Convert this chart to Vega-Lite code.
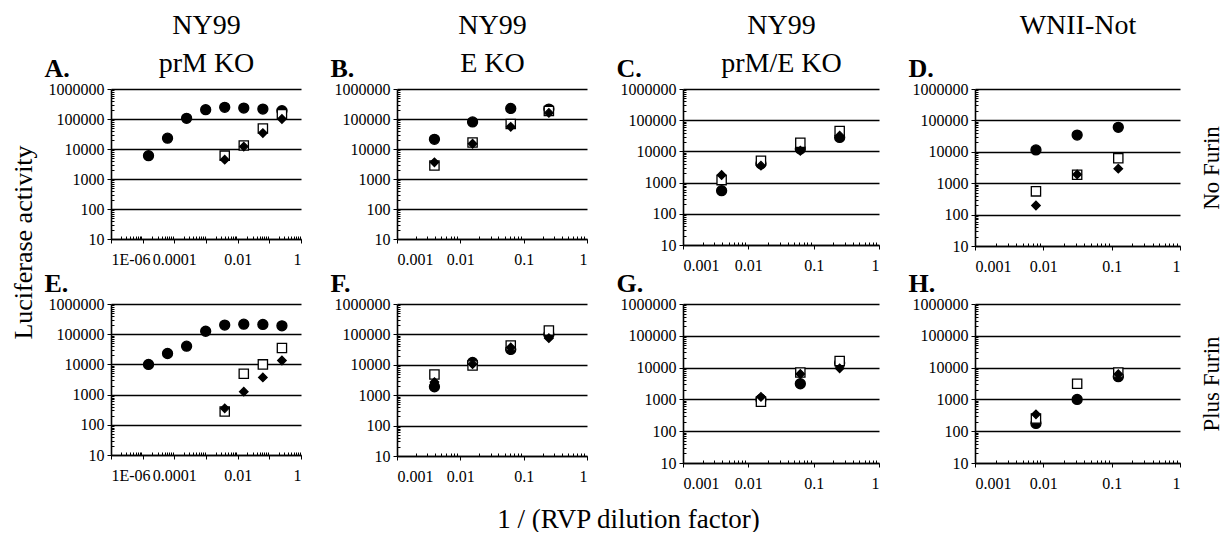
{
  "$schema": "https://vega.github.io/schema/vega-lite/v6.json",
  "padding": {"left": 10, "top": 11, "right": 4, "bottom": 0},
  "background": "white",
  "config": {
    "view": {"stroke": null},
    "font": "Liberation Serif",
    "title": {"font": "Liberation Serif", "fontWeight": "normal", "color": "black"},
    "axis": {
      "labelFont": "Liberation Serif", "labelFontSize": 16, "labelColor": "black",
      "domainColor": "black", "domainWidth": 1.6, "tickColor": "black", "tickWidth": 1,
      "titleFont": "Liberation Serif", "titleColor": "black", "titleFontWeight": "normal"
    }
  },
  "data": {"values": [
    {"panel": "A", "series": "Series 1", "dilution": 0.0000153, "activity": 6000},
    {"panel": "A", "series": "Series 1", "dilution": 0.000061, "activity": 23000},
    {"panel": "A", "series": "Series 1", "dilution": 0.000244, "activity": 105000},
    {"panel": "A", "series": "Series 1", "dilution": 0.000977, "activity": 205000},
    {"panel": "A", "series": "Series 1", "dilution": 0.0039, "activity": 245000},
    {"panel": "A", "series": "Series 1", "dilution": 0.0156, "activity": 232000},
    {"panel": "A", "series": "Series 1", "dilution": 0.0625, "activity": 215000},
    {"panel": "A", "series": "Series 1", "dilution": 0.25, "activity": 190000},
    {"panel": "A", "series": "Series 2", "dilution": 0.0039, "activity": 6000},
    {"panel": "A", "series": "Series 2", "dilution": 0.0156, "activity": 13000},
    {"panel": "A", "series": "Series 2", "dilution": 0.0625, "activity": 48000},
    {"panel": "A", "series": "Series 2", "dilution": 0.25, "activity": 145000},
    {"panel": "A", "series": "Series 3", "dilution": 0.0039, "activity": 4400},
    {"panel": "A", "series": "Series 3", "dilution": 0.0156, "activity": 12000},
    {"panel": "A", "series": "Series 3", "dilution": 0.0625, "activity": 34000},
    {"panel": "A", "series": "Series 3", "dilution": 0.25, "activity": 100000},
    {"panel": "E", "series": "Series 1", "dilution": 0.0000153, "activity": 10000},
    {"panel": "E", "series": "Series 1", "dilution": 0.000061, "activity": 23000},
    {"panel": "E", "series": "Series 1", "dilution": 0.000244, "activity": 40000},
    {"panel": "E", "series": "Series 1", "dilution": 0.000977, "activity": 125000},
    {"panel": "E", "series": "Series 1", "dilution": 0.0039, "activity": 200000},
    {"panel": "E", "series": "Series 1", "dilution": 0.0156, "activity": 215000},
    {"panel": "E", "series": "Series 1", "dilution": 0.0625, "activity": 210000},
    {"panel": "E", "series": "Series 1", "dilution": 0.25, "activity": 190000},
    {"panel": "E", "series": "Series 2", "dilution": 0.0039, "activity": 275},
    {"panel": "E", "series": "Series 2", "dilution": 0.0156, "activity": 4900},
    {"panel": "E", "series": "Series 2", "dilution": 0.0625, "activity": 10000},
    {"panel": "E", "series": "Series 2", "dilution": 0.25, "activity": 35000},
    {"panel": "E", "series": "Series 3", "dilution": 0.0039, "activity": 350},
    {"panel": "E", "series": "Series 3", "dilution": 0.0156, "activity": 1250},
    {"panel": "E", "series": "Series 3", "dilution": 0.0625, "activity": 3700},
    {"panel": "E", "series": "Series 3", "dilution": 0.25, "activity": 13500},
    {"panel": "B", "series": "Series 1", "dilution": 0.0039, "activity": 21000},
    {"panel": "B", "series": "Series 1", "dilution": 0.0156, "activity": 80000},
    {"panel": "B", "series": "Series 1", "dilution": 0.0625, "activity": 225000},
    {"panel": "B", "series": "Series 1", "dilution": 0.25, "activity": 215000},
    {"panel": "B", "series": "Series 2", "dilution": 0.0039, "activity": 2800},
    {"panel": "B", "series": "Series 2", "dilution": 0.0156, "activity": 16500},
    {"panel": "B", "series": "Series 2", "dilution": 0.0625, "activity": 68000},
    {"panel": "B", "series": "Series 2", "dilution": 0.25, "activity": 185000},
    {"panel": "B", "series": "Series 3", "dilution": 0.0039, "activity": 3600},
    {"panel": "B", "series": "Series 3", "dilution": 0.0156, "activity": 15000},
    {"panel": "B", "series": "Series 3", "dilution": 0.0625, "activity": 55000},
    {"panel": "B", "series": "Series 3", "dilution": 0.25, "activity": 160000},
    {"panel": "F", "series": "Series 1", "dilution": 0.0039, "activity": 1900},
    {"panel": "F", "series": "Series 1", "dilution": 0.0156, "activity": 12000},
    {"panel": "F", "series": "Series 1", "dilution": 0.0625, "activity": 32000},
    {"panel": "F", "series": "Series 1", "dilution": 0.25, "activity": 100000},
    {"panel": "F", "series": "Series 2", "dilution": 0.0039, "activity": 4800},
    {"panel": "F", "series": "Series 2", "dilution": 0.0156, "activity": 9500},
    {"panel": "F", "series": "Series 2", "dilution": 0.0625, "activity": 43000},
    {"panel": "F", "series": "Series 2", "dilution": 0.25, "activity": 135000},
    {"panel": "F", "series": "Series 3", "dilution": 0.0039, "activity": 2700},
    {"panel": "F", "series": "Series 3", "dilution": 0.0156, "activity": 10500},
    {"panel": "F", "series": "Series 3", "dilution": 0.0625, "activity": 37000},
    {"panel": "F", "series": "Series 3", "dilution": 0.25, "activity": 75000},
    {"panel": "C", "series": "Series 1", "dilution": 0.0039, "activity": 550},
    {"panel": "C", "series": "Series 1", "dilution": 0.0156, "activity": 4000},
    {"panel": "C", "series": "Series 1", "dilution": 0.0625, "activity": 12000},
    {"panel": "C", "series": "Series 1", "dilution": 0.25, "activity": 28000},
    {"panel": "C", "series": "Series 2", "dilution": 0.0039, "activity": 1200},
    {"panel": "C", "series": "Series 2", "dilution": 0.0156, "activity": 5000},
    {"panel": "C", "series": "Series 2", "dilution": 0.0625, "activity": 19000},
    {"panel": "C", "series": "Series 2", "dilution": 0.25, "activity": 45000},
    {"panel": "C", "series": "Series 3", "dilution": 0.0039, "activity": 1750},
    {"panel": "C", "series": "Series 3", "dilution": 0.0156, "activity": 3500},
    {"panel": "C", "series": "Series 3", "dilution": 0.0625, "activity": 10500},
    {"panel": "C", "series": "Series 3", "dilution": 0.25, "activity": 32000},
    {"panel": "G", "series": "Series 1", "dilution": 0.0156, "activity": 1000},
    {"panel": "G", "series": "Series 1", "dilution": 0.0625, "activity": 3100},
    {"panel": "G", "series": "Series 1", "dilution": 0.25, "activity": 14000},
    {"panel": "G", "series": "Series 2", "dilution": 0.0156, "activity": 850},
    {"panel": "G", "series": "Series 2", "dilution": 0.0625, "activity": 7000},
    {"panel": "G", "series": "Series 2", "dilution": 0.25, "activity": 16000},
    {"panel": "G", "series": "Series 3", "dilution": 0.0156, "activity": 1200},
    {"panel": "G", "series": "Series 3", "dilution": 0.0625, "activity": 6300},
    {"panel": "G", "series": "Series 3", "dilution": 0.25, "activity": 9500},
    {"panel": "D", "series": "Series 1", "dilution": 0.0078, "activity": 11500},
    {"panel": "D", "series": "Series 1", "dilution": 0.03125, "activity": 34000},
    {"panel": "D", "series": "Series 1", "dilution": 0.125, "activity": 60000},
    {"panel": "D", "series": "Series 2", "dilution": 0.0078, "activity": 550},
    {"panel": "D", "series": "Series 2", "dilution": 0.03125, "activity": 1850},
    {"panel": "D", "series": "Series 2", "dilution": 0.125, "activity": 6200},
    {"panel": "D", "series": "Series 3", "dilution": 0.0078, "activity": 195},
    {"panel": "D", "series": "Series 3", "dilution": 0.03125, "activity": 1900},
    {"panel": "D", "series": "Series 3", "dilution": 0.125, "activity": 2900},
    {"panel": "H", "series": "Series 1", "dilution": 0.0078, "activity": 175},
    {"panel": "H", "series": "Series 1", "dilution": 0.03125, "activity": 1000},
    {"panel": "H", "series": "Series 1", "dilution": 0.125, "activity": 5200},
    {"panel": "H", "series": "Series 2", "dilution": 0.0078, "activity": 250},
    {"panel": "H", "series": "Series 2", "dilution": 0.03125, "activity": 3100},
    {"panel": "H", "series": "Series 2", "dilution": 0.125, "activity": 7000},
    {"panel": "H", "series": "Series 3", "dilution": 0.0078, "activity": 340},
    {"panel": "H", "series": "Series 3", "dilution": 0.03125, "activity": 1000},
    {"panel": "H", "series": "Series 3", "dilution": 0.125, "activity": 6200}
  ]},
  "bounds": "flush",
  "columns": 4,
  "spacing": {"row": 58, "column": 96},
  "concat": [
    {
      "width": 190, "height": 150,
      "transform": [{"filter": "datum.panel === 'A'"}],
      "resolve": {"axis": {"x": "independent", "y": "independent"}},
      "layer": [
        {
          "mark": {"type": "point", "filled": true, "stroke": "black", "strokeWidth": 1.3, "opacity": 1},
          "encoding": {
            "x": {"field": "dilution", "type": "quantitative", "scale": {"type": "log", "domain": [0.000001, 1], "nice": false},
              "axis": {"title": null, "grid": false, "labelPadding": 8,
                "values": [1e-6,2e-6,3e-6,4e-6,5e-6,6e-6,7e-6,8e-6,9e-6,1e-5,2e-5,3e-5,4e-5,5e-5,6e-5,7e-5,8e-5,9e-5,0.0001,0.0002,0.0003,0.0004,0.0005,0.0006,0.0007,0.0008,0.0009,0.001,0.002,0.003,0.004,0.005,0.006,0.007,0.008,0.009,0.01,0.02,0.03,0.04,0.05,0.06,0.07,0.08,0.09,0.1,0.2,0.3,0.4,0.5,0.6,0.7,0.8,0.9,1],
                "labelExpr": "datum.value === 0.000001 ? '1E-06' : datum.value === 0.0001 ? '0.0001' : datum.value === 0.01 ? '0.01' : datum.value === 1 ? '1' : ''",
                "tickSize": {"condition": {"test": "abs(log(datum.value)/LN10 - round(log(datum.value)/LN10)) < 0.001", "value": 4}, "value": -3}}},
            "y": {"field": "activity", "type": "quantitative", "scale": {"type": "log", "domain": [10, 1000000], "nice": false},
              "axis": {"title": "A.", "titleAngle": 0, "titleAlign": "left", "titleBaseline": "alphabetic", "titleX": -67, "titleY": -13, "titleFontSize": 26, "titleFontWeight": "bold",
                "values": [10,20,30,40,50,60,70,80,90,100,200,300,400,500,600,700,800,900,1000,2000,3000,4000,5000,6000,7000,8000,9000,10000,20000,30000,40000,50000,60000,70000,80000,90000,100000,200000,300000,400000,500000,600000,700000,800000,900000,1000000],
                "labelExpr": "abs(log(datum.value)/LN10 - round(log(datum.value)/LN10)) < 0.001 ? format(datum.value, 'd') : ''",
                "labelPadding": 3, "grid": true, "gridColor": "black", "gridWidth": 1.5,
                "gridOpacity": {"condition": {"test": "abs(log(datum.value)/LN10 - round(log(datum.value)/LN10)) < 0.001", "value": 1}, "value": 0},
                "tickSize": {"condition": {"test": "abs(log(datum.value)/LN10 - round(log(datum.value)/LN10)) < 0.001", "value": 4}, "value": -3}}},
            "shape": {"field": "series", "type": "nominal", "scale": {"domain": ["Series 1", "Series 2", "Series 3"], "range": ["circle", "square", "diamond"]}, "legend": null},
            "fill": {"field": "series", "type": "nominal", "scale": {"domain": ["Series 1", "Series 2", "Series 3"], "range": ["black", "white", "black"]}, "legend": null},
            "size": {"field": "series", "type": "ordinal", "scale": {"domain": ["Series 1", "Series 2", "Series 3"], "range": [100, 72, 110]}, "legend": null}
          }
        },
        {
          "mark": {"type": "point", "opacity": 0},
          "encoding": {
            "x": {"field": "dilution", "type": "quantitative", "scale": {"type": "log", "domain": [0.000001, 1], "nice": false},
              "axis": {"orient": "top", "title": ["NY99", "prM KO"], "labels": false, "ticks": false, "domain": false, "grid": false, "titleFontSize": 28, "titleLineHeight": 38, "titlePadding": 12, "titleBaseline": "bottom"}},
            "y": {"field": "activity", "type": "quantitative", "scale": {"type": "log", "domain": [10, 1000000], "nice": false},
              "axis": {"orient": "left", "title": "Luciferase activity", "labels": false, "ticks": false, "domain": false, "grid": false, "titleFontSize": 26, "titleAngle": 270, "titleAlign": "center", "titleBaseline": "alphabetic", "titleX": -80, "titleY": 153}}
          }
        }
      ]
    },
    {
      "width": 190, "height": 150,
      "transform": [{"filter": "datum.panel === 'B'"}],
      "resolve": {"axis": {"x": "independent", "y": "independent"}},
      "layer": [
        {
          "mark": {"type": "point", "filled": true, "stroke": "black", "strokeWidth": 1.3, "opacity": 1},
          "encoding": {
            "x": {"field": "dilution", "type": "quantitative", "scale": {"type": "log", "domain": [0.001, 1], "nice": false},
              "axis": {"title": null, "grid": false, "labelPadding": 8,
                "values": [0.001,0.002,0.003,0.004,0.005,0.006,0.007,0.008,0.009,0.01,0.02,0.03,0.04,0.05,0.06,0.07,0.08,0.09,0.1,0.2,0.3,0.4,0.5,0.6,0.7,0.8,0.9,1],
                "labelExpr": "datum.value === 0.001 ? '0.001' : datum.value === 0.01 ? '0.01' : datum.value === 0.1 ? '0.1' : datum.value === 1 ? '1' : ''",
                "tickSize": {"condition": {"test": "abs(log(datum.value)/LN10 - round(log(datum.value)/LN10)) < 0.001", "value": 4}, "value": -3}}},
            "y": {"field": "activity", "type": "quantitative", "scale": {"type": "log", "domain": [10, 1000000], "nice": false},
              "axis": {"title": "B.", "titleAngle": 0, "titleAlign": "left", "titleBaseline": "alphabetic", "titleX": -67, "titleY": -13, "titleFontSize": 26, "titleFontWeight": "bold",
                "values": [10,20,30,40,50,60,70,80,90,100,200,300,400,500,600,700,800,900,1000,2000,3000,4000,5000,6000,7000,8000,9000,10000,20000,30000,40000,50000,60000,70000,80000,90000,100000,200000,300000,400000,500000,600000,700000,800000,900000,1000000],
                "labelExpr": "abs(log(datum.value)/LN10 - round(log(datum.value)/LN10)) < 0.001 ? format(datum.value, 'd') : ''",
                "labelPadding": 3, "grid": true, "gridColor": "black", "gridWidth": 1.5,
                "gridOpacity": {"condition": {"test": "abs(log(datum.value)/LN10 - round(log(datum.value)/LN10)) < 0.001", "value": 1}, "value": 0},
                "tickSize": {"condition": {"test": "abs(log(datum.value)/LN10 - round(log(datum.value)/LN10)) < 0.001", "value": 4}, "value": -3}}},
            "shape": {"field": "series", "type": "nominal", "scale": {"domain": ["Series 1", "Series 2", "Series 3"], "range": ["circle", "square", "diamond"]}, "legend": null},
            "fill": {"field": "series", "type": "nominal", "scale": {"domain": ["Series 1", "Series 2", "Series 3"], "range": ["black", "white", "black"]}, "legend": null},
            "size": {"field": "series", "type": "ordinal", "scale": {"domain": ["Series 1", "Series 2", "Series 3"], "range": [100, 72, 110]}, "legend": null}
          }
        },
        {
          "mark": {"type": "point", "opacity": 0},
          "encoding": {
            "x": {"field": "dilution", "type": "quantitative", "scale": {"type": "log", "domain": [0.001, 1], "nice": false},
              "axis": {"orient": "top", "title": ["NY99", "E KO"], "labels": false, "ticks": false, "domain": false, "grid": false, "titleFontSize": 28, "titleLineHeight": 38, "titlePadding": 12, "titleBaseline": "bottom"}}
          }
        }
      ]
    },
    {
      "width": 196, "height": 156,
      "transform": [{"filter": "datum.panel === 'C'"}],
      "resolve": {"axis": {"x": "independent", "y": "independent"}},
      "layer": [
        {
          "mark": {"type": "point", "filled": true, "stroke": "black", "strokeWidth": 1.3, "opacity": 1},
          "encoding": {
            "x": {"field": "dilution", "type": "quantitative", "scale": {"type": "log", "domain": [0.001, 1], "nice": false},
              "axis": {"title": null, "grid": false, "labelPadding": 8,
                "values": [0.001,0.002,0.003,0.004,0.005,0.006,0.007,0.008,0.009,0.01,0.02,0.03,0.04,0.05,0.06,0.07,0.08,0.09,0.1,0.2,0.3,0.4,0.5,0.6,0.7,0.8,0.9,1],
                "labelExpr": "datum.value === 0.001 ? '0.001' : datum.value === 0.01 ? '0.01' : datum.value === 0.1 ? '0.1' : datum.value === 1 ? '1' : ''",
                "tickSize": {"condition": {"test": "abs(log(datum.value)/LN10 - round(log(datum.value)/LN10)) < 0.001", "value": 4}, "value": -3}}},
            "y": {"field": "activity", "type": "quantitative", "scale": {"type": "log", "domain": [10, 1000000], "nice": false},
              "axis": {"title": "C.", "titleAngle": 0, "titleAlign": "left", "titleBaseline": "alphabetic", "titleX": -67, "titleY": -13, "titleFontSize": 26, "titleFontWeight": "bold",
                "values": [10,20,30,40,50,60,70,80,90,100,200,300,400,500,600,700,800,900,1000,2000,3000,4000,5000,6000,7000,8000,9000,10000,20000,30000,40000,50000,60000,70000,80000,90000,100000,200000,300000,400000,500000,600000,700000,800000,900000,1000000],
                "labelExpr": "abs(log(datum.value)/LN10 - round(log(datum.value)/LN10)) < 0.001 ? format(datum.value, 'd') : ''",
                "labelPadding": 3, "grid": true, "gridColor": "black", "gridWidth": 1.5,
                "gridOpacity": {"condition": {"test": "abs(log(datum.value)/LN10 - round(log(datum.value)/LN10)) < 0.001", "value": 1}, "value": 0},
                "tickSize": {"condition": {"test": "abs(log(datum.value)/LN10 - round(log(datum.value)/LN10)) < 0.001", "value": 4}, "value": -3}}},
            "shape": {"field": "series", "type": "nominal", "scale": {"domain": ["Series 1", "Series 2", "Series 3"], "range": ["circle", "square", "diamond"]}, "legend": null},
            "fill": {"field": "series", "type": "nominal", "scale": {"domain": ["Series 1", "Series 2", "Series 3"], "range": ["black", "white", "black"]}, "legend": null},
            "size": {"field": "series", "type": "ordinal", "scale": {"domain": ["Series 1", "Series 2", "Series 3"], "range": [100, 72, 110]}, "legend": null}
          }
        },
        {
          "mark": {"type": "point", "opacity": 0},
          "encoding": {
            "x": {"field": "dilution", "type": "quantitative", "scale": {"type": "log", "domain": [0.001, 1], "nice": false},
              "axis": {"orient": "top", "title": ["NY99", "prM/E KO"], "labels": false, "ticks": false, "domain": false, "grid": false, "titleFontSize": 28, "titleLineHeight": 38, "titlePadding": 12, "titleBaseline": "bottom"}}
          }
        }
      ]
    },
    {
      "width": 205, "height": 157,
      "transform": [{"filter": "datum.panel === 'D'"}],
      "resolve": {"axis": {"x": "independent", "y": "independent"}},
      "layer": [
        {
          "mark": {"type": "point", "filled": true, "stroke": "black", "strokeWidth": 1.3, "opacity": 1},
          "encoding": {
            "x": {"field": "dilution", "type": "quantitative", "scale": {"type": "log", "domain": [0.001, 1], "nice": false},
              "axis": {"title": null, "grid": false, "labelPadding": 8,
                "values": [0.001,0.002,0.003,0.004,0.005,0.006,0.007,0.008,0.009,0.01,0.02,0.03,0.04,0.05,0.06,0.07,0.08,0.09,0.1,0.2,0.3,0.4,0.5,0.6,0.7,0.8,0.9,1],
                "labelExpr": "datum.value === 0.001 ? '0.001' : datum.value === 0.01 ? '0.01' : datum.value === 0.1 ? '0.1' : datum.value === 1 ? '1' : ''",
                "tickSize": {"condition": {"test": "abs(log(datum.value)/LN10 - round(log(datum.value)/LN10)) < 0.001", "value": 4}, "value": -3}}},
            "y": {"field": "activity", "type": "quantitative", "scale": {"type": "log", "domain": [10, 1000000], "nice": false},
              "axis": {"title": "D.", "titleAngle": 0, "titleAlign": "left", "titleBaseline": "alphabetic", "titleX": -67, "titleY": -13, "titleFontSize": 26, "titleFontWeight": "bold",
                "values": [10,20,30,40,50,60,70,80,90,100,200,300,400,500,600,700,800,900,1000,2000,3000,4000,5000,6000,7000,8000,9000,10000,20000,30000,40000,50000,60000,70000,80000,90000,100000,200000,300000,400000,500000,600000,700000,800000,900000,1000000],
                "labelExpr": "abs(log(datum.value)/LN10 - round(log(datum.value)/LN10)) < 0.001 ? format(datum.value, 'd') : ''",
                "labelPadding": 3, "grid": true, "gridColor": "black", "gridWidth": 1.5,
                "gridOpacity": {"condition": {"test": "abs(log(datum.value)/LN10 - round(log(datum.value)/LN10)) < 0.001", "value": 1}, "value": 0},
                "tickSize": {"condition": {"test": "abs(log(datum.value)/LN10 - round(log(datum.value)/LN10)) < 0.001", "value": 4}, "value": -3}}},
            "shape": {"field": "series", "type": "nominal", "scale": {"domain": ["Series 1", "Series 2", "Series 3"], "range": ["circle", "square", "diamond"]}, "legend": null},
            "fill": {"field": "series", "type": "nominal", "scale": {"domain": ["Series 1", "Series 2", "Series 3"], "range": ["black", "white", "black"]}, "legend": null},
            "size": {"field": "series", "type": "ordinal", "scale": {"domain": ["Series 1", "Series 2", "Series 3"], "range": [100, 72, 110]}, "legend": null}
          }
        },
        {
          "mark": {"type": "point", "opacity": 0},
          "encoding": {
            "x": {"field": "dilution", "type": "quantitative", "scale": {"type": "log", "domain": [0.001, 1], "nice": false},
              "axis": {"orient": "top", "title": "WNII-Not", "labels": false, "ticks": false, "domain": false, "grid": false, "titleFontSize": 28, "titlePadding": 50, "titleBaseline": "bottom"}},
            "y": {"field": "activity", "type": "quantitative", "scale": {"type": "log", "domain": [10, 1000000], "nice": false},
              "axis": {"orient": "right", "title": "No Furin", "labels": false, "ticks": false, "domain": false, "grid": false, "titleAngle": 270, "titleBaseline": "top", "titlePadding": 20, "titleFontSize": 23}}
          }
        }
      ]
    },
    {
      "width": 190, "height": 151,
      "transform": [{"filter": "datum.panel === 'E'"}],
      "mark": {"type": "point", "filled": true, "stroke": "black", "strokeWidth": 1.3, "opacity": 1},
      "encoding": {
        "x": {"field": "dilution", "type": "quantitative", "scale": {"type": "log", "domain": [0.000001, 1], "nice": false},
          "axis": {"title": null, "grid": false, "labelPadding": 8,
            "values": [1e-6,2e-6,3e-6,4e-6,5e-6,6e-6,7e-6,8e-6,9e-6,1e-5,2e-5,3e-5,4e-5,5e-5,6e-5,7e-5,8e-5,9e-5,0.0001,0.0002,0.0003,0.0004,0.0005,0.0006,0.0007,0.0008,0.0009,0.001,0.002,0.003,0.004,0.005,0.006,0.007,0.008,0.009,0.01,0.02,0.03,0.04,0.05,0.06,0.07,0.08,0.09,0.1,0.2,0.3,0.4,0.5,0.6,0.7,0.8,0.9,1],
            "labelExpr": "datum.value === 0.000001 ? '1E-06' : datum.value === 0.0001 ? '0.0001' : datum.value === 0.01 ? '0.01' : datum.value === 1 ? '1' : ''",
            "tickSize": {"condition": {"test": "abs(log(datum.value)/LN10 - round(log(datum.value)/LN10)) < 0.001", "value": 4}, "value": -3}}},
        "y": {"field": "activity", "type": "quantitative", "scale": {"type": "log", "domain": [10, 1000000], "nice": false},
          "axis": {"title": "E.", "titleAngle": 0, "titleAlign": "left", "titleBaseline": "alphabetic", "titleX": -67, "titleY": -13, "titleFontSize": 26, "titleFontWeight": "bold",
            "values": [10,20,30,40,50,60,70,80,90,100,200,300,400,500,600,700,800,900,1000,2000,3000,4000,5000,6000,7000,8000,9000,10000,20000,30000,40000,50000,60000,70000,80000,90000,100000,200000,300000,400000,500000,600000,700000,800000,900000,1000000],
            "labelExpr": "abs(log(datum.value)/LN10 - round(log(datum.value)/LN10)) < 0.001 ? format(datum.value, 'd') : ''",
            "labelPadding": 3, "grid": true, "gridColor": "black", "gridWidth": 1.5,
            "gridOpacity": {"condition": {"test": "abs(log(datum.value)/LN10 - round(log(datum.value)/LN10)) < 0.001", "value": 1}, "value": 0},
            "tickSize": {"condition": {"test": "abs(log(datum.value)/LN10 - round(log(datum.value)/LN10)) < 0.001", "value": 4}, "value": -3}}},
        "shape": {"field": "series", "type": "nominal", "scale": {"domain": ["Series 1", "Series 2", "Series 3"], "range": ["circle", "square", "diamond"]}, "legend": null},
        "fill": {"field": "series", "type": "nominal", "scale": {"domain": ["Series 1", "Series 2", "Series 3"], "range": ["black", "white", "black"]}, "legend": null},
        "size": {"field": "series", "type": "ordinal", "scale": {"domain": ["Series 1", "Series 2", "Series 3"], "range": [100, 72, 110]}, "legend": null}
      }
    },
    {
      "width": 190, "height": 152,
      "transform": [{"filter": "datum.panel === 'F'"}],
      "mark": {"type": "point", "filled": true, "stroke": "black", "strokeWidth": 1.3, "opacity": 1},
      "encoding": {
        "x": {"field": "dilution", "type": "quantitative", "scale": {"type": "log", "domain": [0.001, 1], "nice": false},
          "axis": {"title": "1 / (RVP dilution factor)", "titleFontSize": 27, "titleX": 231, "titleY": 71, "titleAlign": "center", "titleBaseline": "alphabetic", "grid": false, "labelPadding": 8,
            "values": [0.001,0.002,0.003,0.004,0.005,0.006,0.007,0.008,0.009,0.01,0.02,0.03,0.04,0.05,0.06,0.07,0.08,0.09,0.1,0.2,0.3,0.4,0.5,0.6,0.7,0.8,0.9,1],
            "labelExpr": "datum.value === 0.001 ? '0.001' : datum.value === 0.01 ? '0.01' : datum.value === 0.1 ? '0.1' : datum.value === 1 ? '1' : ''",
            "tickSize": {"condition": {"test": "abs(log(datum.value)/LN10 - round(log(datum.value)/LN10)) < 0.001", "value": 4}, "value": -3}}},
        "y": {"field": "activity", "type": "quantitative", "scale": {"type": "log", "domain": [10, 1000000], "nice": false},
          "axis": {"title": "F.", "titleAngle": 0, "titleAlign": "left", "titleBaseline": "alphabetic", "titleX": -67, "titleY": -13, "titleFontSize": 26, "titleFontWeight": "bold",
            "values": [10,20,30,40,50,60,70,80,90,100,200,300,400,500,600,700,800,900,1000,2000,3000,4000,5000,6000,7000,8000,9000,10000,20000,30000,40000,50000,60000,70000,80000,90000,100000,200000,300000,400000,500000,600000,700000,800000,900000,1000000],
            "labelExpr": "abs(log(datum.value)/LN10 - round(log(datum.value)/LN10)) < 0.001 ? format(datum.value, 'd') : ''",
            "labelPadding": 3, "grid": true, "gridColor": "black", "gridWidth": 1.5,
            "gridOpacity": {"condition": {"test": "abs(log(datum.value)/LN10 - round(log(datum.value)/LN10)) < 0.001", "value": 1}, "value": 0},
            "tickSize": {"condition": {"test": "abs(log(datum.value)/LN10 - round(log(datum.value)/LN10)) < 0.001", "value": 4}, "value": -3}}},
        "shape": {"field": "series", "type": "nominal", "scale": {"domain": ["Series 1", "Series 2", "Series 3"], "range": ["circle", "square", "diamond"]}, "legend": null},
        "fill": {"field": "series", "type": "nominal", "scale": {"domain": ["Series 1", "Series 2", "Series 3"], "range": ["black", "white", "black"]}, "legend": null},
        "size": {"field": "series", "type": "ordinal", "scale": {"domain": ["Series 1", "Series 2", "Series 3"], "range": [100, 72, 110]}, "legend": null}
      }
    },
    {
      "width": 196, "height": 159,
      "transform": [{"filter": "datum.panel === 'G'"}],
      "mark": {"type": "point", "filled": true, "stroke": "black", "strokeWidth": 1.3, "opacity": 1},
      "encoding": {
        "x": {"field": "dilution", "type": "quantitative", "scale": {"type": "log", "domain": [0.001, 1], "nice": false},
          "axis": {"title": null, "grid": false, "labelPadding": 8,
            "values": [0.001,0.002,0.003,0.004,0.005,0.006,0.007,0.008,0.009,0.01,0.02,0.03,0.04,0.05,0.06,0.07,0.08,0.09,0.1,0.2,0.3,0.4,0.5,0.6,0.7,0.8,0.9,1],
            "labelExpr": "datum.value === 0.001 ? '0.001' : datum.value === 0.01 ? '0.01' : datum.value === 0.1 ? '0.1' : datum.value === 1 ? '1' : ''",
            "tickSize": {"condition": {"test": "abs(log(datum.value)/LN10 - round(log(datum.value)/LN10)) < 0.001", "value": 4}, "value": -3}}},
        "y": {"field": "activity", "type": "quantitative", "scale": {"type": "log", "domain": [10, 1000000], "nice": false},
          "axis": {"title": "G.", "titleAngle": 0, "titleAlign": "left", "titleBaseline": "alphabetic", "titleX": -67, "titleY": -13, "titleFontSize": 26, "titleFontWeight": "bold",
            "values": [10,20,30,40,50,60,70,80,90,100,200,300,400,500,600,700,800,900,1000,2000,3000,4000,5000,6000,7000,8000,9000,10000,20000,30000,40000,50000,60000,70000,80000,90000,100000,200000,300000,400000,500000,600000,700000,800000,900000,1000000],
            "labelExpr": "abs(log(datum.value)/LN10 - round(log(datum.value)/LN10)) < 0.001 ? format(datum.value, 'd') : ''",
            "labelPadding": 3, "grid": true, "gridColor": "black", "gridWidth": 1.5,
            "gridOpacity": {"condition": {"test": "abs(log(datum.value)/LN10 - round(log(datum.value)/LN10)) < 0.001", "value": 1}, "value": 0},
            "tickSize": {"condition": {"test": "abs(log(datum.value)/LN10 - round(log(datum.value)/LN10)) < 0.001", "value": 4}, "value": -3}}},
        "shape": {"field": "series", "type": "nominal", "scale": {"domain": ["Series 1", "Series 2", "Series 3"], "range": ["circle", "square", "diamond"]}, "legend": null},
        "fill": {"field": "series", "type": "nominal", "scale": {"domain": ["Series 1", "Series 2", "Series 3"], "range": ["black", "white", "black"]}, "legend": null},
        "size": {"field": "series", "type": "ordinal", "scale": {"domain": ["Series 1", "Series 2", "Series 3"], "range": [100, 72, 110]}, "legend": null}
      }
    },
    {
      "width": 205, "height": 159,
      "transform": [{"filter": "datum.panel === 'H'"}],
      "resolve": {"axis": {"y": "independent"}},
      "layer": [
        {
          "mark": {"type": "point", "filled": true, "stroke": "black", "strokeWidth": 1.3, "opacity": 1},
          "encoding": {
            "x": {"field": "dilution", "type": "quantitative", "scale": {"type": "log", "domain": [0.001, 1], "nice": false},
              "axis": {"title": null, "grid": false, "labelPadding": 8,
                "values": [0.001,0.002,0.003,0.004,0.005,0.006,0.007,0.008,0.009,0.01,0.02,0.03,0.04,0.05,0.06,0.07,0.08,0.09,0.1,0.2,0.3,0.4,0.5,0.6,0.7,0.8,0.9,1],
                "labelExpr": "datum.value === 0.001 ? '0.001' : datum.value === 0.01 ? '0.01' : datum.value === 0.1 ? '0.1' : datum.value === 1 ? '1' : ''",
                "tickSize": {"condition": {"test": "abs(log(datum.value)/LN10 - round(log(datum.value)/LN10)) < 0.001", "value": 4}, "value": -3}}},
            "y": {"field": "activity", "type": "quantitative", "scale": {"type": "log", "domain": [10, 1000000], "nice": false},
              "axis": {"title": "H.", "titleAngle": 0, "titleAlign": "left", "titleBaseline": "alphabetic", "titleX": -67, "titleY": -13, "titleFontSize": 26, "titleFontWeight": "bold",
                "values": [10,20,30,40,50,60,70,80,90,100,200,300,400,500,600,700,800,900,1000,2000,3000,4000,5000,6000,7000,8000,9000,10000,20000,30000,40000,50000,60000,70000,80000,90000,100000,200000,300000,400000,500000,600000,700000,800000,900000,1000000],
                "labelExpr": "abs(log(datum.value)/LN10 - round(log(datum.value)/LN10)) < 0.001 ? format(datum.value, 'd') : ''",
                "labelPadding": 3, "grid": true, "gridColor": "black", "gridWidth": 1.5,
                "gridOpacity": {"condition": {"test": "abs(log(datum.value)/LN10 - round(log(datum.value)/LN10)) < 0.001", "value": 1}, "value": 0},
                "tickSize": {"condition": {"test": "abs(log(datum.value)/LN10 - round(log(datum.value)/LN10)) < 0.001", "value": 4}, "value": -3}}},
            "shape": {"field": "series", "type": "nominal", "scale": {"domain": ["Series 1", "Series 2", "Series 3"], "range": ["circle", "square", "diamond"]}, "legend": null},
            "fill": {"field": "series", "type": "nominal", "scale": {"domain": ["Series 1", "Series 2", "Series 3"], "range": ["black", "white", "black"]}, "legend": null},
            "size": {"field": "series", "type": "ordinal", "scale": {"domain": ["Series 1", "Series 2", "Series 3"], "range": [100, 72, 110]}, "legend": null}
          }
        },
        {
          "mark": {"type": "point", "opacity": 0},
          "encoding": {
            "y": {"field": "activity", "type": "quantitative", "scale": {"type": "log", "domain": [10, 1000000], "nice": false},
              "axis": {"orient": "right", "title": "Plus Furin", "labels": false, "ticks": false, "domain": false, "grid": false, "titleAngle": 270, "titleBaseline": "top", "titlePadding": 20, "titleFontSize": 23}}
          }
        }
      ]
    }
  ]
}
